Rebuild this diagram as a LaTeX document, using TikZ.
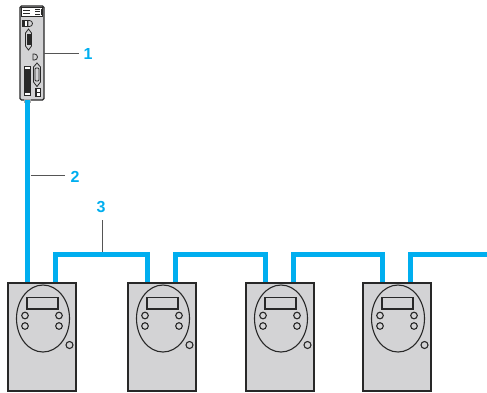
\documentclass[tikz,border=0pt]{standalone}
\usepackage{fontspec}
\setmainfont{Liberation Sans}
\usetikzlibrary{calc}

\definecolor{cablecol}{RGB}{0,174,239}
\definecolor{housing}{RGB}{211,211,213}
\definecolor{edge}{RGB}{40,40,40}
\definecolor{leadcol}{RGB}{85,85,85}

\tikzset{
  drive/.style={draw=edge, line width=1.3pt, fill=housing, minimum width=68pt,
    minimum height=108pt, inner sep=0pt, outer sep=0pt, anchor=north west},
  ctrlbox/.style={draw=edge, line width=1.1pt, fill=housing, rounded corners=1.5pt,
    minimum width=24pt, minimum height=94pt, inner sep=0pt, outer sep=0pt},
  cable/.style={draw=cablecol, line width=5pt, line join=miter},
  leader/.style={draw=leadcol, line width=0.9pt},
  callout/.style={text=cablecol, font=\bfseries\fontsize{16}{16}\selectfont, inner sep=1pt},
  part/.style={draw=edge, line width=1.1pt},
  icon/.style={draw=edge, line width=0.8pt}
}

\begin{document}
\begin{tikzpicture}[x=1pt, y=-1pt]
\useasboundingbox (0,0) rectangle (487,392);

% --- controller ---------------------------------------------------------
\node[ctrlbox] (ctrl) at (32,53) {};
\fill[housing!80!black] (24,99) rectangle (31,103);
% header strip
\draw[icon, fill=white] (21.5,7.5) rectangle (42.5,16);
\draw[icon] (23,10.5) -- (30,10.5) (23,13) -- (30,13);
\draw[icon] (35,9.5) -- (40,9.5) (35,11.8) -- (40,11.8) (35,14) -- (40,14) (41,9) -- (41,14.5);
% upper port icons
\draw[icon, fill=white] (22,20.5) rectangle (27,26.5);
\fill[edge] (22,20.5) rectangle (24.5,26.5);
\draw[icon] (28,20.5) -- (29.5,20.5) arc[start angle=90, end angle=-90, radius=3pt] -- (28,26.5) -- cycle;
% upper sub-D connector
\draw[icon, fill=housing] (28.5,29) -- (31.5,33) -- (31.5,46) -- (28.5,50) -- (25.5,46) -- (25.5,33) -- cycle;
\fill[edge] (26.5,34) rectangle (30.5,45);
% middle port icon
\draw[icon] (33,54) -- (34.5,54) arc[start angle=90, end angle=-90, radius=3pt] -- (33,60) -- cycle;
% lower sub-D connector
\draw[icon, fill=housing] (37,63) -- (40.5,67) -- (40.5,82) -- (37,86.5) -- (33.5,82) -- (33.5,67) -- cycle;
\draw[icon, rounded corners=1pt] (35,68) rectangle (39,81);
% slot
\draw[icon, fill=white] (24.5,66.5) rectangle (30.5,95.5);
\fill[edge] (25.3,69) rectangle (29.7,93);
% small terminal
\draw[icon, fill=white] (35,88.5) rectangle (40.5,96.5);
\fill[edge] (35,88.5) rectangle (37.3,96.5);
\draw[icon] (37.3,92.5) -- (40.5,92.5);

% --- drive ports and bus level -------------------------------------------
\coordinate (bus) at (0,254.5);
\coordinate (far) at (490,254.5);
\foreach \i/\x in {1/8,2/128,3/246,4/363}{
  \coordinate (d\i in)  at (\x+19,283);
  \coordinate (d\i out) at (\x+47.5,283);
}

% --- cables -------------------------------------------------------------
\coordinate (ctrlport) at (ctrl.south -| d1in);
\draw[cable] (ctrlport) -- (d1in);
\draw[cable] (d1out) |- (bus -| d2in) -- (d2in);
\draw[cable] (d2out) |- (bus -| d3in) -- (d3in);
\draw[cable] (d3out) |- (bus -| d4in) -- (d4in);
\draw[cable] (d4out) |- (far);

% --- drives -------------------------------------------------------------
\foreach \i/\x in {1/8,2/128,3/246,4/363}{
  \node[drive] (d\i) at (\x,283) {};
  \begin{scope}[shift={(\x,0)}]
    \draw[part] (35,318.5) ellipse[x radius=26.5, y radius=33.5];
    \draw[part] (19,297.5) rectangle (50,309);
    \draw[part] (17,315.5) circle[radius=3.3] (17,326) circle[radius=3.3]
                (51,315.5) circle[radius=3.3] (51,326) circle[radius=3.3];
    \draw[part] (61.5,345) circle[radius=3.5];
  \end{scope}
}

% --- callouts -----------------------------------------------------------
\node[callout] (l1) at (88,54) {1};
\draw[leader, shorten >=3pt] (ctrl.east) -- (ctrl.east -| l1.west);
\node[callout] (l2) at (75,177) {2};
\coordinate (c2) at (30.5,175);
\draw[leader, shorten >=4pt] (c2) -- (c2 -| l2.west);
\node[callout] (l3) at (101,207) {3};
\coordinate (c3) at (102,252);
\draw[leader, shorten >=6pt] (c3) -- (c3 |- l3.south);
\end{tikzpicture}
\end{document}
